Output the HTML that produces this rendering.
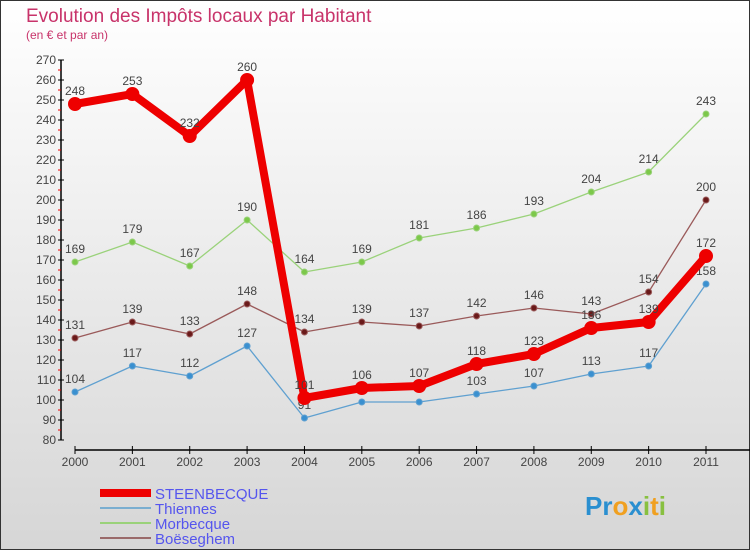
<!DOCTYPE html>
<html><head><meta charset="utf-8"><style>
body{margin:0}
#c{width:750px;height:550px;position:relative;font-family:"Liberation Sans",sans-serif;}
</style></head><body>
<div id="c">
<svg id="s" width="750" height="550" xmlns="http://www.w3.org/2000/svg">
<defs><linearGradient id="bg" x1="0" y1="0" x2="0" y2="1"><stop offset="0" stop-color="#ffffff"/><stop offset="1" stop-color="#d6d6d6"/></linearGradient></defs>
<rect x="0.5" y="0.5" width="749" height="549" fill="url(#bg)" stroke="#333"/>
<text x="26" y="22" font-size="19" fill="#c8336a">Evolution des Impôts locaux par Habitant</text>
<text x="26" y="39" font-size="12" fill="#c8336a">(en € et par an)</text>
<g id="axes"></g>
<g id="series"></g>
<g>
<rect x="100" y="489" width="51" height="8" fill="#e00"/>
<text x="155" y="499" font-size="15" fill="#5555ee">STEENBECQUE</text>
<rect x="100" y="507" width="51" height="2" fill="#7aaed0"/>
<text x="155" y="514" font-size="15" fill="#5555ee">Thiennes</text>
<rect x="100" y="522" width="51" height="2" fill="#9ad27a"/>
<text x="155" y="529" font-size="15" fill="#5555ee">Morbecque</text>
<rect x="100" y="537" width="51" height="2" fill="#9a6a6a"/>
<text x="155" y="544" font-size="15" fill="#5555ee">Boëseghem</text>
</g>
<text x="585" y="515" font-size="26" font-weight="bold"><tspan fill="#2a8fd0">Pr</tspan><tspan fill="#f0a020">o</tspan><tspan fill="#2a8fd0">x</tspan><tspan fill="#88c040">i</tspan><tspan fill="#f0a020">t</tspan><tspan fill="#88c040">i</tspan></text>
</svg>
</div>
<script>
const years=["2000","2001","2002","2003","2004","2005","2006","2007","2008","2009","2010","2011"];
const steenbecque=[248,253,232,260,101,106,107,118,123,136,139,172];
const thiennes=[104,117,112,127,91,99,99,103,107,113,117,158];
const morbecque=[169,179,167,190,164,169,181,186,193,204,214,243];
const boeseghem=[131,139,133,148,134,139,137,142,146,143,154,200];
const yTicks=[80,90,100,110,120,130,140,150,160,170,180,190,200,210,220,230,240,250,260,270];
const NS="http://www.w3.org/2000/svg";
const xs=i=>75+i*(706-75)/(years.length-1);
const ys=v=>440-(v-80)*2;
function mk(t,a,p){const e=document.createElementNS(NS,t);for(const k in a)e.setAttribute(k,a[k]);p.appendChild(e);return e;}
const ax=document.getElementById('axes');
let l=mk('line',{x1:61,y1:60,x2:61,y2:440,stroke:'#000','stroke-width':1.5},ax);


l=mk('line',{x1:75,y1:450,x2:750,y2:450,stroke:'#000','stroke-width':1.5},ax);


yTicks.forEach((v,i)=>{
 const y=ys(v);
 mk('line',{x1:58,y1:y,x2:64,y2:y,stroke:'#000'},ax);
 if(i<yTicks.length-1)mk('line',{x1:58,y1:y-10,x2:61,y2:y-10,stroke:'#e00'},ax);
 const t=mk('text',{x:56,y:y+4,'font-size':12,'text-anchor':'end',fill:'#444'},ax);
 t.textContent=v;
 
 
});
years.forEach((yr,i)=>{
 const x=xs(i);
 mk('line',{x1:x,y1:446,x2:x,y2:454,stroke:'#000'},ax);
 const t=mk('text',{x:x,y:466,'font-size':12,'text-anchor':'middle',fill:'#444'},ax);
 t.textContent=yr;
 
 
});
const sg=document.getElementById('series');
function draw(name,data,color,dot,w,r,labels){
 const g=mk('g',{},sg);
 
 
 const p=mk('polyline',{points:data.map((v,i)=>xs(i)+','+ys(v)).join(' '),fill:'none',stroke:color,'stroke-width':w,'stroke-linejoin':'round'},g);
 
 
 data.forEach((v,i)=>{
  const c=mk('circle',{cx:xs(i),cy:ys(v),r:r,fill:dot,stroke:color,'stroke-width':1},g);
  
  
  if(labels[i]){
   const t=mk('text',{x:xs(i),y:ys(v)-9,'font-size':12,'text-anchor':'middle',fill:'#444'},g);
   t.textContent=v;
   
   
  }
 });
}
draw('thiennes',thiennes,'#5fa0d0','#3a90d0',1.3,3,[1,1,1,1,1,0,0,1,1,1,1,1]);
draw('morbecque',morbecque,'#9ad27a','#7cc84a',1.3,3,Array(12).fill(1));
draw('boeseghem',boeseghem,'#9a5a5a','#6a1a1a',1.3,3,Array(12).fill(1));
draw('steenbecque',steenbecque,'#ee0000','#ee0000',8,6.5,Array(12).fill(1));
</script>
</body></html>
